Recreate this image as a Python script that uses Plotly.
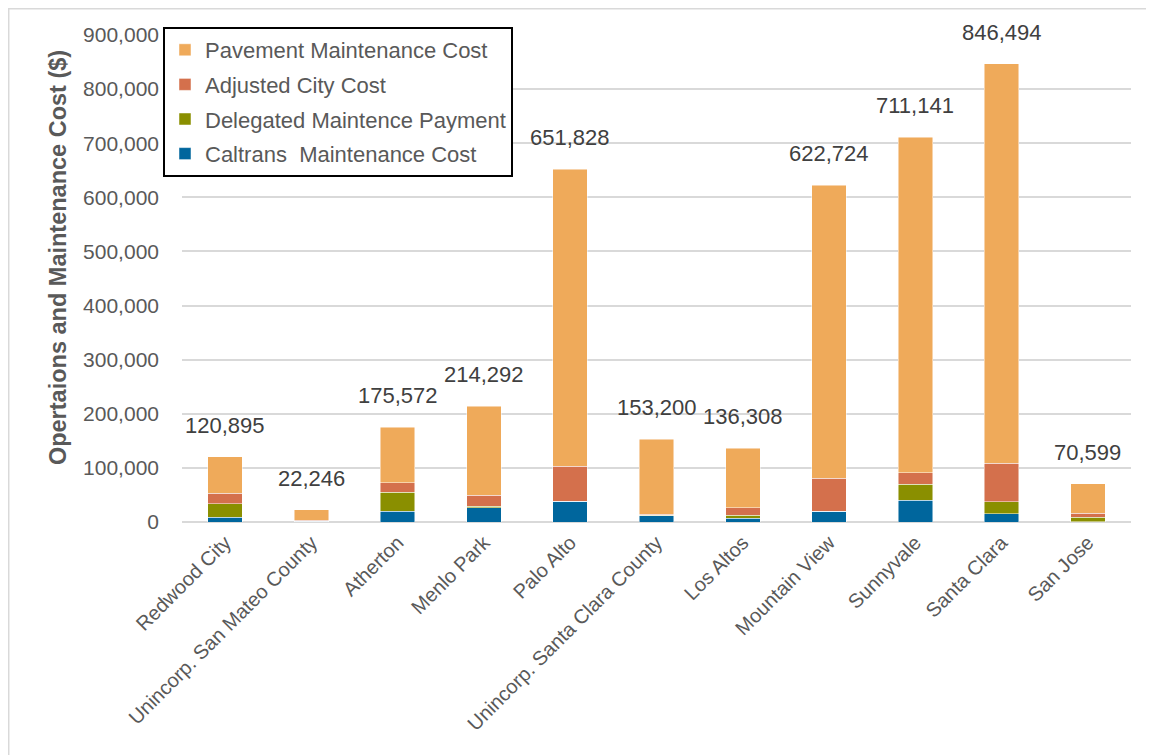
import plotly.graph_objects as go

categories = ["Redwood City", "Unincorp. San Mateo County", "Atherton", "Menlo Park",
              "Palo Alto", "Unincorp. Santa Clara County", "Los Altos", "Mountain View",
              "Sunnyvale", "Santa Clara", "San Jose"]
totals = [120895, 22246, 175572, 214292, 651828, 153200, 136308, 622724, 711141, 846494, 70599]
caltrans = [9200, 1000, 19800, 26600, 38800, 11500, 6800, 19800, 40100, 15500, 500]
delegated = [24800, 0, 35600, 2400, 0, 1000, 5600, 0, 30100, 22200, 8700]
adjusted = [19600, 2500, 17400, 20900, 64700, 2000, 14200, 61500, 20400, 71300, 7400]
pavement = [t - c - d - a for t, c, d, a in zip(totals, caltrans, delegated, adjusted)]

series = [
    ("Caltrans  Maintenance Cost", caltrans, "#00669D", 4),
    ("Delegated Maintence Payment", delegated, "#8A8F00", 3),
    ("Adjusted City Cost", adjusted, "#D4704C", 2),
    ("Pavement Maintenance Cost", pavement, "#EFAA5A", 1),
]

fig = go.Figure()
for i, (name, vals, col, rank) in enumerate(series):
    fig.add_trace(go.Bar(x=categories, y=vals, name=name, marker_color=col,
                         legendgroup=f"g{i}", legendrank=rank,
                         marker_line=dict(color="rgba(255,255,255,0.6)", width=0.8)))

for c, t in zip(categories, totals):
    fig.add_annotation(x=c, y=t, text=f"{t:,}", showarrow=False, yanchor="bottom",
                       yshift=17, font=dict(family="Liberation Sans, Arial",
                                            size=22, color="#404040"))

# page body has an 8px margin; positions below are window pixels minus 8
OFF = 8
W, H = 1154 - OFF, 755 - OFF
L, T = 182 - OFF, 35 - OFF
R = W - (1130.6 - OFF)
B = H - (521.7 - OFF)
pw, ph = W - L - R, H - T - B

def px2paper(x, y):
    # x, y in window pixels
    return (x - OFF - L) / pw, (H - B - (y - OFF)) / ph

x0, y0 = px2paper(OFF + 0.8, OFF + 0.8)
x1, y1 = px2paper(1200, 800)
fig.add_shape(type="rect", xref="paper", yref="paper", x0=x0, y0=y1, x1=x1, y1=y0,
              line=dict(color="#d9d9d9", width=1.5), layer="below")

tx, ty = px2paper(58, 257)
fig.add_annotation(xref="paper", yref="paper", x=tx, y=ty, xanchor="center", yanchor="middle",
                   text="<b>Opertaions and Maintenance Cost ($)</b>", textangle=-90,
                   showarrow=False, font=dict(family="Liberation Sans, Arial", size=23.5,
                                              color="#595959"))

lx, ly = px2paper(163, 27)
fig.update_layout(
    width=W, height=H,
    margin=dict(l=L, r=R, t=T, b=B, autoexpand=False),
    barmode="stack", bargap=0.6,
    plot_bgcolor="white", paper_bgcolor="white",
    font=dict(family="Liberation Sans, Arial", color="#595959"),
    legend=dict(x=lx, y=ly, xanchor="left", yanchor="top", traceorder="grouped",
                tracegroupgap=3,
                bordercolor="black", borderwidth=2, bgcolor="white",
                font=dict(size=22, color="#595959")),
    showlegend=True,
)
fig.update_yaxes(range=[0, 900000], dtick=100000, tickformat=",d", automargin=False,
                 showgrid=True, gridcolor="#d9d9d9", gridwidth=2,
                 zeroline=True, zerolinecolor="#d9d9d9", zerolinewidth=2,
                 tickfont=dict(size=21, color="#595959"), ticklabelstandoff=22)
fig.update_xaxes(tickangle=-45, tickfont=dict(size=20, color="#595959"),
                 automargin=False, showline=False, ticks="", ticklabelstandoff=4)

fig.write_html("out.html")
